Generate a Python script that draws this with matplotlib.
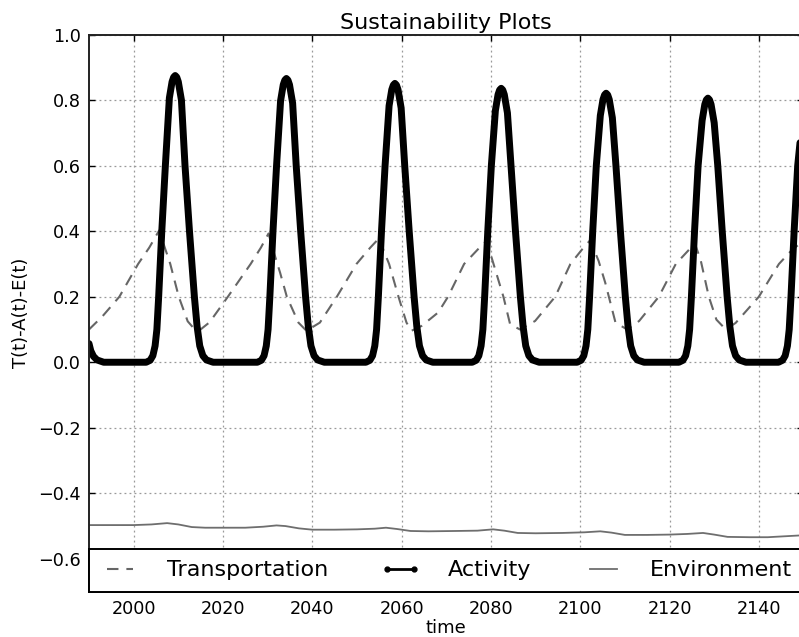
import matplotlib
matplotlib.use("Agg")
import matplotlib.pyplot as plt
from matplotlib.lines import Line2D

# ---------------- data ----------------
title = "Sustainability Plots"
x_label = "time"
y_label = "T(t)-A(t)-E(t)"
series_names = ["Transportation", "Activity", "Environment"]

x_ticks = [2000, 2020, 2040, 2060, 2080, 2100, 2120, 2140]
y_ticks = [-0.6, -0.4, -0.2, 0.0, 0.2, 0.4, 0.6, 0.8, 1.0]

transport_years = [1990.0, 1993.0, 1996.8, 2001.0, 2003.5, 2005.7, 2006.9, 2008.2, 2010.1,
                   2012.1, 2013.5, 2014.7, 2017.0, 2021.1, 2026.2, 2028.5, 2030.2, 2031.2,
                   2032.8, 2034.3, 2036.9, 2038.7, 2041.7, 2045.5, 2049.9, 2053.0, 2055.2,
                   2055.9, 2057.2, 2059.3, 2061.1, 2062.2, 2064.5, 2068.2, 2070.4, 2074.0,
                   2077.6, 2079.0, 2080.3, 2082.8, 2084.3, 2086.5, 2089.9, 2094.4, 2097.8,
                   2100.4, 2102.2, 2104.1, 2105.6, 2107.9, 2110.5, 2113.2, 2117.6, 2121.4,
                   2124.4, 2125.7, 2127.0, 2128.8, 2130.5, 2132.6, 2134.8, 2140.0, 2144.5,
                   2147.5, 2150.0]
transport_values = [0.100, 0.140, 0.200, 0.300, 0.350, 0.402, 0.353, 0.300, 0.200,
                    0.125, 0.103, 0.097, 0.122, 0.200, 0.300, 0.350, 0.393, 0.344,
                    0.273, 0.200, 0.121, 0.096, 0.121, 0.200, 0.300, 0.350, 0.382,
                    0.344, 0.300, 0.200, 0.121, 0.096, 0.111, 0.152, 0.200, 0.300,
                    0.352, 0.370, 0.313, 0.200, 0.116, 0.100, 0.126, 0.200, 0.300,
                    0.344, 0.372, 0.310, 0.243, 0.121, 0.100, 0.126, 0.200, 0.300,
                    0.344, 0.362, 0.310, 0.200, 0.130, 0.100, 0.120, 0.200, 0.300,
                    0.344, 0.370]

activity_years = [
    1990.0, 1990.4, 1991.0, 1991.8, 1993.3,
    2002.8, 2003.7, 2004.3, 2004.8, 2005.2, 2005.6, 2006.3, 2007.1, 2008.0, 2008.6, 2008.95,
    2009.3, 2009.65, 2010.0, 2010.7, 2011.5, 2012.5, 2013.6, 2014.2, 2014.8, 2015.5, 2016.3, 2017.8,
    2027.7, 2028.6, 2029.2, 2029.7, 2030.1, 2030.5, 2031.2, 2032.0, 2032.9, 2033.5, 2033.85,
    2034.2, 2034.55, 2034.9, 2035.6, 2036.4, 2037.4, 2038.5, 2039.1, 2039.7, 2040.4, 2041.2, 2042.7,
    2052.0, 2052.9, 2053.5, 2054.0, 2054.4, 2054.8, 2055.5, 2056.3, 2057.2, 2057.8, 2058.15,
    2058.5, 2058.85, 2059.2, 2059.9, 2060.7, 2061.7, 2062.8, 2063.4, 2064.0, 2064.7, 2065.5, 2067.0,
    2075.8, 2076.7, 2077.3, 2077.8, 2078.2, 2078.6, 2079.3, 2080.1, 2081.0, 2081.6, 2081.95,
    2082.3, 2082.65, 2083.0, 2083.7, 2084.5, 2085.5, 2086.6, 2087.2, 2087.8, 2088.5, 2089.3, 2090.8,
    2099.3, 2100.2, 2100.8, 2101.3, 2101.7, 2102.1, 2102.8, 2103.6, 2104.5, 2105.1, 2105.45,
    2105.8, 2106.15, 2106.5, 2107.2, 2108.0, 2109.0, 2110.1, 2110.7, 2111.3, 2112.0, 2112.8, 2114.3,
    2122.1, 2123.0, 2123.6, 2124.1, 2124.5, 2124.9, 2125.6, 2126.4, 2127.3, 2127.9, 2128.25,
    2128.6, 2128.95, 2129.3, 2130.0, 2130.8, 2131.8, 2132.9, 2133.5, 2134.1, 2134.8, 2135.6, 2137.1,
    2144.4, 2145.3, 2145.9, 2146.4, 2146.8, 2147.2, 2147.9, 2148.7, 2149.6, 2150.2]
activity_values = [
    0.057, 0.035, 0.018, 0.007, 0.0,
    0.0, 0.006, 0.02, 0.05, 0.10, 0.20, 0.40, 0.60, 0.807, 0.856, 0.870,
    0.875, 0.870, 0.856, 0.800, 0.60, 0.40, 0.20, 0.11, 0.05, 0.02, 0.007, 0.0,
    0.0, 0.006, 0.02, 0.05, 0.10, 0.20, 0.40, 0.60, 0.798, 0.847, 0.861,
    0.866, 0.861, 0.847, 0.791, 0.60, 0.40, 0.20, 0.11, 0.05, 0.02, 0.007, 0.0,
    0.0, 0.006, 0.02, 0.05, 0.10, 0.20, 0.40, 0.60, 0.783, 0.832, 0.846,
    0.851, 0.846, 0.832, 0.776, 0.60, 0.40, 0.20, 0.11, 0.05, 0.02, 0.007, 0.0,
    0.0, 0.006, 0.02, 0.05, 0.10, 0.20, 0.40, 0.60, 0.768, 0.817, 0.831,
    0.836, 0.831, 0.817, 0.761, 0.60, 0.40, 0.20, 0.11, 0.05, 0.02, 0.007, 0.0,
    0.0, 0.006, 0.02, 0.05, 0.10, 0.20, 0.40, 0.60, 0.753, 0.802, 0.816,
    0.821, 0.816, 0.802, 0.746, 0.60, 0.40, 0.20, 0.11, 0.05, 0.02, 0.007, 0.0,
    0.0, 0.006, 0.02, 0.05, 0.10, 0.20, 0.40, 0.60, 0.738, 0.787, 0.801,
    0.806, 0.801, 0.787, 0.731, 0.60, 0.40, 0.20, 0.11, 0.05, 0.02, 0.007, 0.0,
    0.0, 0.006, 0.02, 0.05, 0.10, 0.20, 0.40, 0.60, 0.722, 0.771]

environment_years = [1990, 1995, 2000, 2004, 2007.5, 2010, 2013, 2016, 2020, 2025, 2029,
                     2032, 2034, 2037, 2040, 2045, 2050, 2054, 2056.5, 2059, 2062, 2066,
                     2072, 2077, 2080.5, 2083, 2086, 2090, 2096, 2101, 2104.5, 2107, 2110,
                     2115, 2120, 2124, 2127.5, 2130, 2133, 2138, 2142, 2146, 2150]
environment_values = [-0.497, -0.497, -0.497, -0.495, -0.491, -0.495, -0.503, -0.505, -0.505,
                      -0.505, -0.502, -0.498, -0.500, -0.507, -0.511, -0.511, -0.510, -0.508,
                      -0.505, -0.509, -0.515, -0.516, -0.515, -0.514, -0.510, -0.514, -0.521,
                      -0.522, -0.521, -0.519, -0.516, -0.520, -0.527, -0.527, -0.526, -0.524,
                      -0.521, -0.526, -0.533, -0.534, -0.534, -0.531, -0.528]

x_range = (1990, 2150)
y_range = (-0.7, 1.0)

# ---------------- figure ----------------
W, H = 799, 637
fig = plt.figure(figsize=(W / 100, H / 100), dpi=100)
ax = fig.add_axes([89 / W, 1 - 591.6 / H, 714.5 / W, 557 / H])

trans_line, = ax.plot(transport_years, transport_values, color="#666666", lw=1.5,
                      linestyle=(0, (5.5, 3.8)))
ax.plot(activity_years, activity_values, color="black", lw=5.0,
        solid_joinstyle="round", solid_capstyle="round")
env_line, = ax.plot(environment_years, environment_values, color="#6e6e6e", lw=1.3)

ax.set_xlim(*x_range)
ax.set_ylim(*y_range)
ax.set_xticks(x_ticks)
ax.set_yticks(y_ticks)
ax.set_yticklabels(["\u2212%.1f" % abs(v) if v < 0 else "%.1f" % v for v in y_ticks])

ax.grid(True, color="#999999", linestyle=(0, (1.5, 2.5)), lw=0.9)
ax.tick_params(direction="in", top=True, right=True, labelsize=12.7, length=4,
               width=1.0, pad=6)
for s in ax.spines.values():
    s.set_linewidth(1.4)
    s.set_color("#222222")

ax.set_title(title, fontsize=16, pad=4)
ax.set_xlabel(x_label, fontsize=13, labelpad=1)
ax.set_ylabel(y_label, fontsize=13, labelpad=6)

act_handle = Line2D([], [], color="black", lw=2.0, marker=".", markersize=7)
leg = ax.legend([trans_line, act_handle, env_line], series_names, ncol=3,
                loc="lower left", bbox_to_anchor=(0, 0, 1, 1), mode="expand",
                borderaxespad=0, fontsize=16, frameon=True, fancybox=False,
                handlelength=1.8, handletextpad=1.2, borderpad=0.5, numpoints=2)
leg.get_frame().set_edgecolor("black")
leg.get_frame().set_linewidth(1.4)
leg.get_frame().set_alpha(1.0)

fig.savefig("out.png", dpi=100)
